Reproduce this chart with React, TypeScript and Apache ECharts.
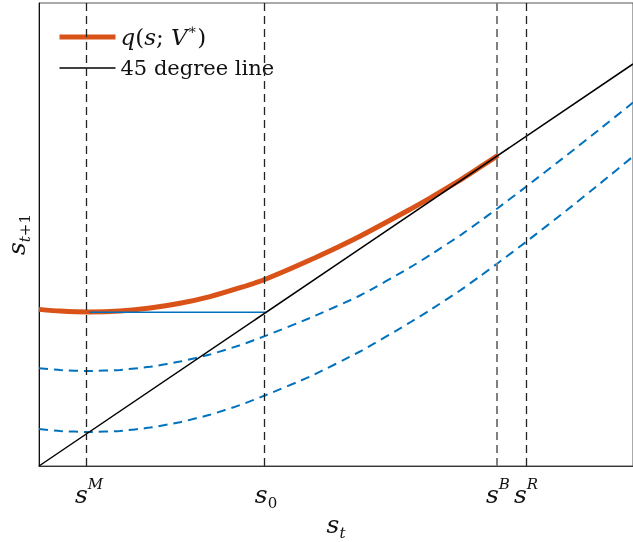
import React, { useEffect, useRef } from 'react';
import * as echarts from 'echarts';

// s_t grid shared by the curves
const orangeX = [0, 0.0354, 0.0842, 0.1364, 0.1869, 0.2374, 0.2879, 0.3384, 0.3822, 0.4562, 0.5404, 0.6246, 0.6582, 0.7088, 0.7424, 0.7727];
// q(s; V*)
const orangeY = [0.3896, 0.3853, 0.3831, 0.3856, 0.3928, 0.4047, 0.4214, 0.4435, 0.4652, 0.5122, 0.5716, 0.6383, 0.6662, 0.7112, 0.7433, 0.7726];

const dashedX = [0, 0.0354, 0.0842, 0.1364, 0.1869, 0.2374, 0.2879, 0.3384, 0.3822, 0.4562, 0.5404, 0.6246, 0.6582, 0.7088, 0.7424, 0.7727, 0.8215, 0.8889, 0.9444, 1.0];
const upperY = [0.2433, 0.2387, 0.2363, 0.2391, 0.2468, 0.2597, 0.2774, 0.3005, 0.3244, 0.3682, 0.4241, 0.4938, 0.5246, 0.5734, 0.6087, 0.6418, 0.6965, 0.7736, 0.8383, 0.904];
const lowerY = [0.0919, 0.0871, 0.0846, 0.0873, 0.0955, 0.109, 0.1276, 0.1515, 0.1766, 0.2226, 0.2848, 0.357, 0.3878, 0.4366, 0.4719, 0.505, 0.5592, 0.6368, 0.7025, 0.7699];

const lineX = [0, 1];
const markerValues = [0.0842, 0.3822, 0.7727, 0.82];
const markerLabels = ['{i|s}{sup|M}', '{i|s}{sub|0}', '{i|s}{sup|B}', '{i|s}{sup|R}'];
const legendNames = ['q(s;V*)', '45 degree line'];

const F = 'DejaVu Serif';
const C = '#111';
const rich = {
  i: { fontFamily: F, fontStyle: 'italic', fontSize: 25, lineHeight: 36, color: C },
  sup: { fontFamily: F, fontStyle: 'italic', fontSize: 15, lineHeight: 16, verticalAlign: 'top', color: C },
  sub: { fontFamily: F, fontSize: 15, verticalAlign: 'bottom', padding: [0, 0, 2, 0], color: C },
  subi: { fontFamily: F, fontStyle: 'italic', fontSize: 15, verticalAlign: 'bottom', padding: [0, 0, 2, 0], color: C },
};
const legendRich = {
  li: { fontFamily: F, fontStyle: 'italic', fontSize: 23, lineHeight: 30, color: C },
  ln: { fontFamily: F, fontSize: 23, lineHeight: 30, color: C },
  lsup: { fontFamily: F, fontSize: 14, lineHeight: 14, verticalAlign: 'top', color: C },
};

export default function App() {
  const ref = useRef<HTMLDivElement>(null);
  useEffect(() => {
    if (!ref.current) return;
    const chart = echarts.init(ref.current, null, { renderer: 'svg' });
    const sM = markerValues[0];
    const s0 = markerValues[1];
    chart.setOption({
      animation: false,
      grid: {
        left: 39, top: 3, right: 0, bottom: 76,
        show: true, borderColor: '#555', borderWidth: 1,
        outerBoundsMode: 'none',
      },
      legend: {
        data: legendNames,
        orient: 'vertical',
        left: 57,
        top: 22,
        padding: 0,
        itemWidth: 56,
        itemHeight: 20,
        itemGap: 1,
        selectedMode: false,
        lineStyle: { width: 'inherit' },
        itemStyle: { opacity: 0, borderWidth: 0 },
        textStyle: { fontFamily: F, fontSize: 21, lineHeight: 30, color: C, rich: legendRich },
        formatter: (name: string) =>
          name === legendNames[0] ? '{li|q}{ln|(}{li|s}{ln|; }{li|V}{lsup|∗}{ln|)}' : name,
      },
      xAxis: {
        type: 'value', min: 0, max: 1,
        axisLine: { show: true, lineStyle: { color: '#333', width: 1 } },
        axisTick: { show: false },
        splitLine: { show: false },
        axisLabel: {
          customValues: markerValues,
          margin: 10,
          formatter: (v: number) => {
            const k = markerValues.findIndex((m) => Math.abs(m - v) < 1e-6);
            return k >= 0 ? markerLabels[k] : '';
          },
          rich,
        },
        name: '{i|s}{subi|t}',
        nameLocation: 'middle',
        nameGap: 40,
        nameMoveOverlap: false,
        nameTextStyle: { rich },
      },
      yAxis: {
        type: 'value', min: 0, max: 1.1517,
        axisLine: { show: true, lineStyle: { color: '#111', width: 1 } },
        axisTick: { show: false },
        axisLabel: { show: false },
        splitLine: { show: false },
        name: '{i|s}{subi|t}{sub|+1}',
        nameLocation: 'middle',
        nameGap: 5,
        nameMoveOverlap: false,
        nameTextStyle: { rich },
      },
      series: [
        {
          name: legendNames[0], type: 'line', symbol: 'none', smooth: 0.2,
          data: orangeX.map((x, i) => [x, orangeY[i]]),
          lineStyle: { color: '#D95319', width: 5 }, itemStyle: { color: '#D95319' },
          emphasis: { disabled: true }, z: 2,
        },
        {
          name: 'upper', type: 'line', symbol: 'none', smooth: 0.2,
          data: dashedX.map((x, i) => [x, upperY[i]]),
          lineStyle: { color: '#0072BD', width: 2, type: [9, 6] },
          emphasis: { disabled: true }, z: 2,
        },
        {
          name: 'lower', type: 'line', symbol: 'none', smooth: 0.2,
          data: dashedX.map((x, i) => [x, lowerY[i]]),
          lineStyle: { color: '#0072BD', width: 2, type: [9, 6] },
          emphasis: { disabled: true }, z: 2,
        },
        {
          name: 'flat', type: 'line', symbol: 'none',
          data: [[sM, s0], [s0, s0]],
          lineStyle: { color: '#0072BD', width: 1.5 },
          emphasis: { disabled: true }, z: 3,
        },
        {
          name: legendNames[1], type: 'line', symbol: 'none',
          data: lineX.map((x) => [x, x]),
          lineStyle: { color: '#000', width: 1.5 }, itemStyle: { color: '#000' },
          emphasis: { disabled: true }, z: 4,
          markLine: {
            silent: true,
            symbol: ['none', 'none'],
            label: { show: false },
            lineStyle: { color: '#222', width: 1.3, type: [8, 5] },
            data: markerValues.map((v, k) =>
              k === 2 ? { xAxis: v, lineStyle: { color: '#808080', width: 2, type: [8, 5] } } : { xAxis: v }
            ),
          },
        },
      ],
    });
    return () => chart.dispose();
  }, []);
  return <div ref={ref} style={{ position: 'fixed', left: 0, top: 0, width: 633, height: 542 }} />;
}
